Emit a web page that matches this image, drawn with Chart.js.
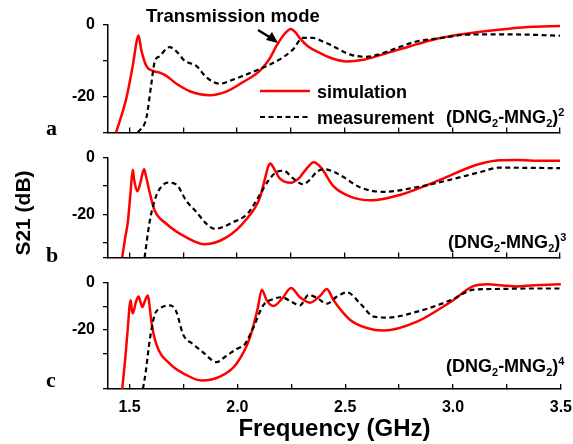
<!DOCTYPE html>
<html>
<head>
<meta charset="utf-8">
<script src="https://cdn.jsdelivr.net/npm/chart.js@4.4.1/dist/chart.umd.min.js"></script>
<style>
body { margin: 0; background: #fff; }
#wrap { position: relative; width: 573px; height: 444px; overflow: hidden; font-family: "Liberation Sans", Arial, sans-serif; font-weight: bold; color: #000; }
canvas { position: absolute; left: 0; }
.t { position: absolute; white-space: nowrap; line-height: 1; transform: translateY(-50%); }
.t sub, .t sup { font-size: 11px; }
.lab { position: absolute; font-family: "Liberation Serif", "Times New Roman", serif; font-weight: bold; font-size: 22px; line-height: 1; transform: translateY(-50%); }
</style>
</head>
<body>
<div id="wrap">
  <canvas id="cA" width="573" height="150" style="top:0"></canvas>
  <canvas id="cB" width="573" height="135" style="top:140px"></canvas>
  <canvas id="cC" width="586" height="179" style="top:265px"></canvas>

  <div class="t" style="left:146px;top:16px;font-size:18.5px">Transmission mode</div>
  <svg width="573" height="444" style="position:absolute;left:0;top:0">
    <line x1="258" y1="30" x2="271" y2="38" stroke="#000" stroke-width="2.5"/>
    <polygon points="278,43 266,40 272,32" fill="#000"/>
    <line x1="260" y1="91" x2="310" y2="91" stroke="#ff0000" stroke-width="2.5"/>
    <line x1="260" y1="117" x2="310" y2="117" stroke="#000" stroke-width="2.2" stroke-dasharray="5,3.5"/>
  </svg>
  <div class="t" style="left:317px;top:92px;font-size:18px">simulation</div>
  <div class="t" style="left:317px;top:118px;font-size:18px">measurement</div>
  <div class="t" style="left:446px;top:118px;font-size:18px">(DNG<sub>2</sub>-MNG<sub>2</sub>)<sup>2</sup></div>
  <div class="t" style="left:448px;top:243px;font-size:18px">(DNG<sub>2</sub>-MNG<sub>2</sub>)<sup>3</sup></div>
  <div class="t" style="left:446px;top:367px;font-size:18px">(DNG<sub>2</sub>-MNG<sub>2</sub>)<sup>4</sup></div>

  <div class="lab" style="left:46px;top:128px">a</div>
  <div class="lab" style="left:46px;top:255px">b</div>
  <div class="lab" style="left:46px;top:380px">c</div>

  <div class="t" style="left:22px;top:213px;font-size:21px;transform:translate(-50%,-50%) rotate(-90deg)">S21 (dB)</div>
</div>
<script>
// panel a: (DNG2-MNG2)^2
const freqSimA = [1.438, 1.485, 1.515, 1.535, 1.542, 1.554, 1.578, 1.608, 1.64, 1.671, 1.72, 1.78, 1.872, 1.95, 2.026, 2.105, 2.15, 2.182, 2.22, 2.249, 2.27, 2.29, 2.33, 2.384, 2.44, 2.508, 2.58, 2.677, 2.8, 2.91, 3.02, 3.14, 3.25, 3.375, 3.5]
const s21SimA = [-30, -20.5, -11.4, -4, -2.9, -6.8, -11.4, -12.8, -13.3, -14.2, -16.5, -18.5, -19.6, -18.6, -16, -12.8, -9.5, -5.9, -2.5, -1.1, -2, -3.6, -6, -7.8, -9.3, -10.2, -9.8, -8.2, -6, -4.1, -2.8, -1.8, -1.1, -0.5, -0.3]
const freqMeasA = [1.539, 1.578, 1.6, 1.616, 1.64, 1.686, 1.72, 1.756, 1.81, 1.857, 1.919, 1.97, 2.027, 2.105, 2.198, 2.26, 2.305, 2.35, 2.398, 2.445, 2.523, 2.6, 2.66, 2.725, 2.833, 2.94, 3.066, 3.22, 3.35, 3.5]
const s21MeasA = [-30, -26, -17, -10.5, -8.7, -6.2, -7.5, -10, -11.4, -14.6, -16.4, -15.5, -14.2, -12.3, -9.6, -6.8, -3.6, -3.6, -4.6, -5.9, -8.2, -8.9, -8.2, -6.8, -4.6, -3.7, -2.7, -2.6, -2.7, -3]

// panel b: (DNG2-MNG2)^3
const freqSimB = [1.466, 1.48, 1.492, 1.505, 1.515, 1.522, 1.536, 1.55, 1.562, 1.568, 1.575, 1.593, 1.616, 1.671, 1.764, 1.849, 1.95, 2.043, 2.105, 2.128, 2.145, 2.154, 2.165, 2.198, 2.249, 2.29, 2.32, 2.356, 2.39, 2.446, 2.523, 2.624, 2.756, 2.942, 3.113, 3.22, 3.3, 3.376, 3.5]
const s21SimB = [-35, -28, -22.7, -12, -4.3, -8, -11.8, -9, -5, -4.1, -6, -12, -18.4, -23.2, -28, -30.4, -28, -21.6, -14.2, -7.8, -3, -2.1, -3, -7.3, -8.8, -7, -4.1, -1.6, -3.5, -9.9, -13.6, -15, -13.1, -7.8, -2.5, -0.9, -0.8, -1.1, -1.1]
const freqMeasB = [1.57, 1.593, 1.616, 1.64, 1.678, 1.717, 1.764, 1.81, 1.857, 1.895, 1.98, 2.05, 2.105, 2.143, 2.182, 2.216, 2.26, 2.306, 2.337, 2.37, 2.407, 2.45, 2.492, 2.57, 2.678, 2.833, 2.988, 3.128, 3.22, 3.35, 3.5]
const s21MeasB = [-35, -22.7, -15.2, -11, -8.8, -9.4, -15.2, -19, -23.2, -25, -22.7, -19.5, -13.1, -8.3, -5.1, -4.6, -7.3, -9.4, -7.8, -5, -4.1, -5, -6.7, -10.4, -12, -10.4, -7.8, -5.1, -3.5, -3.6, -3.7]

// panel c: (DNG2-MNG2)^4
const freqSimC = [1.466, 1.48, 1.492, 1.5, 1.505, 1.51, 1.515, 1.53, 1.542, 1.55, 1.559, 1.572, 1.585, 1.593, 1.601, 1.624, 1.686, 1.764, 1.833, 1.919, 1.996, 2.058, 2.094, 2.113, 2.136, 2.167, 2.206, 2.249, 2.29, 2.337, 2.384, 2.415, 2.446, 2.523, 2.6, 2.678, 2.833, 2.988, 3.097, 3.16, 3.23, 3.3, 3.4, 3.5]
const s21SimC = [-45, -32, -19.2, -10, -7.5, -11, -13, -8, -5.9, -8, -10.3, -7.5, -5.5, -10, -16.5, -26, -34.3, -39.1, -41.4, -39.8, -34.3, -23.3, -11, -3, -7.5, -9.9, -6.9, -2.3, -6.2, -8.5, -5.5, -2.7, -7.5, -15.8, -19.2, -20.3, -16.5, -8.2, -1.4, -0.7, -1.2, -1.6, -1, -0.7]
const freqMeasC = [1.562, 1.574, 1.593, 1.616, 1.64, 1.686, 1.717, 1.748, 1.794, 1.841, 1.903, 1.95, 1.996, 2.035, 2.073, 2.12, 2.167, 2.206, 2.252, 2.29, 2.33, 2.37, 2.415, 2.46, 2.508, 2.57, 2.632, 2.694, 2.833, 2.988, 3.097, 3.2, 3.35, 3.5]
const s21MeasC = [-45, -38.4, -24.7, -13.7, -11, -9.6, -12.3, -21.9, -26, -29.5, -33.6, -30.9, -28.1, -26, -19.2, -9.6, -6.9, -6.2, -8.2, -9.6, -5.2, -6.5, -8.9, -6, -4.1, -8.9, -14.4, -14.8, -12.3, -7.5, -3, -2.7, -2.5, -2.5]

const fontName = '"Liberation Sans", Arial, sans-serif'

function pts(f, v) {
    return f.map((x, i) => ({ x: x, y: v[i] }))
}

function panel(id, simF, simV, measF, measV, yMin, padTop, padRight, xHeight, showX) {
    let ctx = document.getElementById(id)
    const data = {
        datasets: [{
            label: 'measurement',
            data: pts(measF, measV),
            borderColor: '#000000',
            borderWidth: 2.2,
            borderDash: [5, 3.5],
            pointRadius: 0,
            cubicInterpolationMode: 'monotone',
            clip: { left: 0, top: 4, right: 4, bottom: 0 },
        }, {
            label: 'simulation',
            data: pts(simF, simV),
            borderColor: '#ff0000',
            borderWidth: 2.5,
            pointRadius: 0,
            cubicInterpolationMode: 'monotone',
            clip: { left: 0, top: 4, right: 4, bottom: 0 },
        }]
    }
    const config = {
        type: 'line',
        data: data,
        options: {
            responsive: false,
            animation: false,
            layout: { padding: { top: padTop, right: padRight, left: 0, bottom: 0 } },
            plugins: { legend: { display: false }, tooltip: { enabled: false } },
            scales: {
                x: {
                    type: 'linear',
                    min: 1.4,
                    max: 3.5,
                    afterFit: function (s) { s.height = xHeight },
                    border: { color: '#000', width: 1.5 },
                    grid: { drawOnChartArea: false, drawTicks: true, tickLength: -5, color: '#000', lineWidth: 1.3 },
                    ticks: {
                        display: showX,
                        stepSize: 0.25,
                        includeBounds: false,
                        autoSkip: false,
                        maxRotation: 0,
                        padding: 14,
                        color: '#000',
                        font: { family: fontName, size: 16, weight: 'bold' },
                        callback: function (v) {
                            const r = Math.round(v * 100) / 100
                            if (Math.abs(r * 2 - Math.round(r * 2)) < 1e-6) return r.toFixed(1)
                            return ''
                        }
                    },
                    title: {
                        display: showX,
                        text: 'Frequency (GHz)',
                        color: '#000',
                        padding: { top: 0, bottom: 0 },
                        font: { family: fontName, size: 24, weight: 'bold' }
                    }
                },
                y: {
                    min: yMin,
                    max: 0,
                    afterFit: function (s) { s.width = 108 },
                    border: { color: '#000', width: 1.5 },
                    grid: { drawOnChartArea: false, drawTicks: true, tickLength: 5, color: '#000', lineWidth: 1.3 },
                    ticks: {
                        stepSize: 10,
                        padding: 8,
                        color: '#000',
                        font: { family: fontName, size: 16, weight: 'bold' },
                        callback: function (v) { return v % 20 === 0 ? String(v) : '' }
                    }
                }
            }
        }
    }
    return new Chart(ctx, config)
}

panel('cA', freqSimA, s21SimA, freqMeasA, s21MeasA, -30, 25, 13, 15, false)
panel('cB', freqSimB, s21SimB, freqMeasB, s21MeasB, -35, 12, 13, 13, false)
panel('cC', freqSimC, s21SimC, freqMeasC, s21MeasC, -45, 15, 0, 55, true)
</script>
</body>
</html>
